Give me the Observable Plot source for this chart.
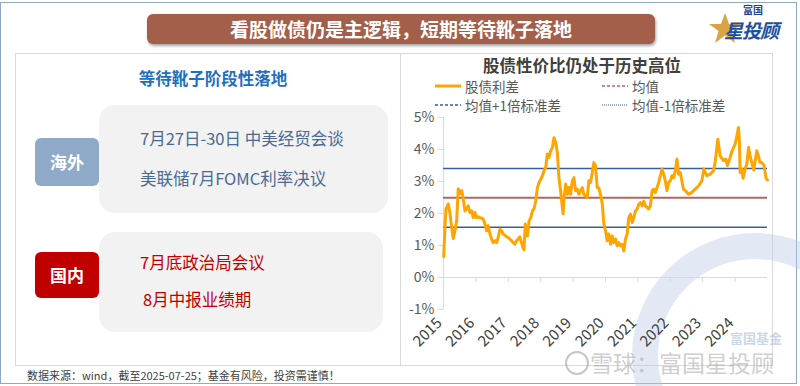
<!DOCTYPE html>
<html><head><meta charset="utf-8">
<script src="https://cdn.jsdelivr.net/npm/d3@7"></script>
<script src="https://cdn.jsdelivr.net/npm/@observablehq/plot@0.6"></script>
<style>
body{margin:0;background:#fff;font-family:"Noto Sans CJK SC","Noto Sans",sans-serif;}
#root{position:relative;width:800px;height:386px;overflow:hidden;background:#fff;}
.abs{position:absolute;}
.lg{position:absolute;font-size:13.5px;color:#595959;line-height:16px;white-space:nowrap;}
.lg svg{position:absolute;left:-30px;top:3px;}
</style></head><body><div id="root">
<div class="abs" style="left:0;top:2px;width:795px;height:380px;border:1px solid #8fa9cc;"></div>
<div class="abs" style="left:147px;top:14px;width:508px;height:30px;background:#a35f4a;border-radius:6px;box-shadow:1px 2px 3px rgba(0,0,0,0.35);color:#fff;font-weight:bold;font-size:19px;line-height:30px;text-align:center;">看股做债仍是主逻辑，短期等待靴子落地</div>
<svg class="abs" style="left:708px;top:12px;" width="34" height="32" viewBox="0 0 34 32"><polygon points="17,1 21,12 33,12 23.5,19 27,31 17,23.5 7,31 10.5,19 1,12 13,12" fill="#d8a446"/></svg>
<div class="abs" style="left:743px;top:4px;font-size:10px;font-weight:bold;line-height:12px;color:#1f3f8f;">富国</div>
<div class="abs" style="left:724px;top:19px;font-size:19px;font-weight:bold;font-style:italic;line-height:22px;color:#1d4f9f;letter-spacing:-1px;">星投顾</div>
<div class="abs" style="left:15px;top:53px;width:384px;height:311px;border:1px solid #d9d9d9;"></div>
<div class="abs" style="left:400px;top:53px;width:371px;height:311px;border:1px solid #d9d9d9;"></div>
<div class="abs" style="left:15px;top:66px;width:396px;text-align:center;font-size:16.5px;font-weight:bold;color:#1f6fbf;line-height:24px;">等待靴子阶段性落地</div>
<div class="abs" style="left:99px;top:105px;width:289px;height:108px;background:#f2f2f2;border-radius:16px;"></div>
<div class="abs" style="left:99px;top:232px;width:284px;height:100px;background:#f2f2f2;border-radius:16px;"></div>
<div class="abs" style="left:35px;top:138px;width:64px;height:48px;background:#8faac8;border-radius:6px;color:#fff;font-weight:bold;font-size:17px;line-height:48px;text-align:center;">海外</div>
<div class="abs" style="left:35px;top:252px;width:64px;height:46px;background:#c00000;border-radius:6px;color:#fff;font-weight:bold;font-size:17px;line-height:46px;text-align:center;">国内</div>
<div class="abs" style="left:140px;top:127px;font-size:16.5px;line-height:22px;color:#4a6a95;white-space:nowrap;">7月27日-30日 中美经贸会谈</div>
<div class="abs" style="left:140px;top:167px;font-size:16.5px;line-height:22px;color:#4a6a95;white-space:nowrap;">美联储7月FOMC利率决议</div>
<div class="abs" style="left:140px;top:251px;font-size:16.5px;line-height:22px;color:#c00000;white-space:nowrap;">7月底政治局会议</div>
<div class="abs" style="left:143px;top:288px;font-size:16.5px;line-height:22px;color:#c00000;white-space:nowrap;">8月中报业绩期</div>
<div class="abs" style="left:400px;top:54px;width:364px;text-align:center;font-size:16.5px;font-weight:bold;color:#404040;line-height:22px;">股债性价比仍处于历史高位</div>
<div class="lg" style="left:465px;top:78px;"><svg width="26" height="10"><line x1="0" y1="5" x2="26" y2="5" stroke="#ffa500" stroke-width="3"/></svg>股债利差</div>
<div class="lg" style="left:632px;top:78px;"><svg width="26" height="10"><line x1="0" y1="5" x2="26" y2="5" stroke="#b5655a" stroke-width="1.5" stroke-dasharray="3,2"/></svg>均值</div>
<div class="lg" style="left:465px;top:97px;"><svg width="26" height="10"><line x1="0" y1="5" x2="26" y2="5" stroke="#3b5f93" stroke-width="1.5" stroke-dasharray="3,2"/></svg>均值+1倍标准差</div>
<div class="lg" style="left:632px;top:97px;"><svg width="26" height="10"><line x1="0" y1="5" x2="26" y2="5" stroke="#3b5f93" stroke-width="1.2" stroke-dasharray="1,1"/></svg>均值-1倍标准差</div>
<div class="abs" style="left:632px;top:233px;width:246px;height:246px;border-radius:50%;border:26px solid rgba(185,202,228,0.42);box-sizing:border-box;"></div>
<div id="chart" class="abs" style="left:400px;top:110px;"></div>
<div class="abs" style="left:730px;top:330px;font-size:13px;line-height:16px;font-weight:bold;color:rgba(160,180,210,0.55);">富国基金</div>
<div class="abs" style="left:565px;top:351px;width:20px;height:20px;border-radius:50%;border:2px solid rgba(160,160,160,0.6);"></div>
<div class="abs" style="left:590px;top:350px;font-size:23px;line-height:24px;color:rgba(165,165,165,0.55);white-space:nowrap;">雪球：富国星投顾</div>
<div class="abs" style="left:27px;top:367px;font-size:11px;line-height:16px;color:#404040;white-space:nowrap;">数据来源：wind，截至2025-07-25；基金有风险，投资需谨慎！</div>
</div>
<script>
// 股债利差 (%), time as decimal year
const spreadT = [2015.568,2015.608,2015.639,2015.710,2015.762,2015.814,2015.864,2015.916,2015.968,2016.017,2016.070,2016.122,2016.171,2016.224,2016.276,2016.325,2016.377,2016.430,2016.479,2016.531,2016.584,2016.633,2016.685,2016.737,2016.787,2016.839,2016.891,2016.940,2016.993,2017.045,2017.094,2017.147,2017.199,2017.248,2017.300,2017.353,2017.402,2017.454,2017.507,2017.556,2017.608,2017.660,2017.710,2017.762,2017.814,2017.864,2017.916,2017.968,2018.017,2018.045,2018.085,2018.153,2018.202,2018.254,2018.307,2018.356,2018.408,2018.460,2018.510,2018.562,2018.614,2018.664,2018.716,2018.768,2018.817,2018.870,2018.922,2018.971,2019.024,2019.076,2019.125,2019.177,2019.230,2019.254,2019.279,2019.331,2019.384,2019.433,2019.485,2019.537,2019.587,2019.639,2019.691,2019.740,2019.793,2019.845,2019.894,2019.947,2019.999,2020.048,2020.100,2020.153,2020.202,2020.254,2020.307,2020.356,2020.430,2020.460,2020.510,2020.562,2020.614,2020.664,2020.716,2020.768,2020.817,2020.870,2020.922,2020.971,2021.024,2021.076,2021.125,2021.177,2021.230,2021.279,2021.331,2021.384,2021.433,2021.485,2021.537,2021.587,2021.639,2021.691,2021.740,2021.793,2021.845,2021.894,2021.947,2021.999,2022.048,2022.100,2022.153,2022.202,2022.254,2022.307,2022.356,2022.408,2022.460,2022.510,2022.562,2022.614,2022.664,2022.716,2022.768,2022.817,2022.870,2022.922,2022.971,2023.024,2023.125,2023.230,2023.331,2023.433,2023.537,2023.599,2023.691,2023.793,2023.894,2023.947,2024.030,2024.100,2024.202,2024.276,2024.325,2024.408,2024.470,2024.562,2024.608,2024.664,2024.694,2024.716,2024.768,2024.808,2024.870,2024.922,2024.977,2025.024,2025.076,2025.137,2025.230,2025.279,2025.331,2025.384,2025.454,2025.516,2025.562];
const spreadV = [0.65,1.6,2.15,2.3,2.0,1.56,1.22,1.46,1.77,2.77,2.62,2.72,2.46,2.08,2.15,2.24,2.03,2.08,1.87,2.03,1.87,1.9,1.87,1.86,1.82,1.67,1.46,1.62,1.36,1.2,1.09,1.15,1.09,1.25,1.51,1.46,1.36,1.33,1.27,1.25,1.2,1.15,1.09,1.04,1.15,1.2,1.27,1.09,0.92,0.87,1.67,1.3,1.77,1.87,2.08,2.15,2.4,2.81,2.97,3.07,3.18,3.33,3.44,3.86,3.75,3.96,4.06,4.37,4.22,3.9,3.12,2.71,2.19,1.99,2.45,2.92,2.6,2.81,2.6,3.02,3.12,2.71,2.76,2.6,2.71,2.81,2.6,2.55,2.5,3.02,2.97,3.28,3.59,3.49,2.81,2.8,2.5,2.3,1.7,1.46,1.15,1.36,1.04,1.3,1.09,1.2,0.99,1.09,0.99,1.04,0.83,1.2,1.36,1.87,1.98,1.72,1.87,2.08,2.14,2.29,2.34,2.24,2.38,2.24,2.19,2.14,2.24,2.71,2.76,2.66,2.81,2.97,3.18,3.39,3.23,3.02,2.71,2.97,3.02,3.18,3.12,3.33,3.7,3.23,3.28,3.0,2.75,2.72,2.6,2.66,2.76,2.86,3.02,3.39,3.18,3.23,3.33,3.6,4.32,3.8,3.65,3.7,3.5,3.75,3.96,4.17,4.37,4.69,4.27,3.28,3.39,3.1,3.39,3.54,4.06,3.8,3.59,3.36,3.96,3.8,3.59,3.59,3.5,3.1,3.05];
const meanLevel = 2.49;   // 均值
const upperLevel = 3.41;  // 均值+1倍标准差
const lowerLevel = 1.57;  // 均值-1倍标准差
const yTicks = [-1, 0, 1, 2, 3, 4, 5];
const xTickYears = [2015, 2016, 2017, 2018, 2019, 2020, 2021, 2022, 2023, 2024];
const startDate = new Date(Date.UTC(2015, 6, 25));
const endDate = new Date(Date.UTC(2025, 6, 25));

const toDate = t => { const y = Math.floor(t); const s = Date.UTC(y,0,1), e = Date.UTC(y+1,0,1); return new Date(s + (t - y) * (e - s)); };
const series = spreadT.map((t, i) => ({date: toDate(t), value: spreadV[i]}));
const xTicks = xTickYears.map(y => new Date(Date.UTC(y, 6, 25)));

const chart = Plot.plot({
  width: 372, height: 252,
  marginLeft: 43, marginRight: 5, marginTop: 7, marginBottom: 53,
  style: {fontFamily: "'Noto Sans CJK SC', sans-serif", fontSize: "14px", color: "#595959", background: "transparent", overflow: "visible"},
  x: {type: "utc", domain: [startDate, endDate]},
  y: {domain: [-1, 5]},
  marks: [
    Plot.ruleY([0], {stroke: "#d9d9d9"}),
    Plot.ruleX([startDate], {stroke: "#d9d9d9"}),
    Plot.ruleX(xTicks, {x: d => d, y1: 0, y2: 0, insetBottom: -5, stroke: "#d9d9d9"}),
    Plot.axisY(yTicks, {tickSize: 5, tickPadding: 4, tickFormat: d => d + "%", fontSize: 14, stroke: "#d9d9d9", fill: "#595959", label: null}),
    Plot.axisX(xTicks, {tickSize: 0, tickPadding: 11, tickRotate: -45, dx: -4, tickFormat: d => String(d.getUTCFullYear()), fontSize: 15, fill: "#404040", label: null}),
    Plot.ruleY([meanLevel], {stroke: "#b5655a", strokeWidth: 2}),
    Plot.ruleY([upperLevel, lowerLevel], {stroke: "#3b5f93", strokeWidth: 1.5}),
    Plot.lineY(series, {x: "date", y: "value", stroke: "#ffa500", strokeWidth: 3, strokeLinejoin: "round"})
  ]
});
document.getElementById("chart").appendChild(chart);
</script>
</body></html>
